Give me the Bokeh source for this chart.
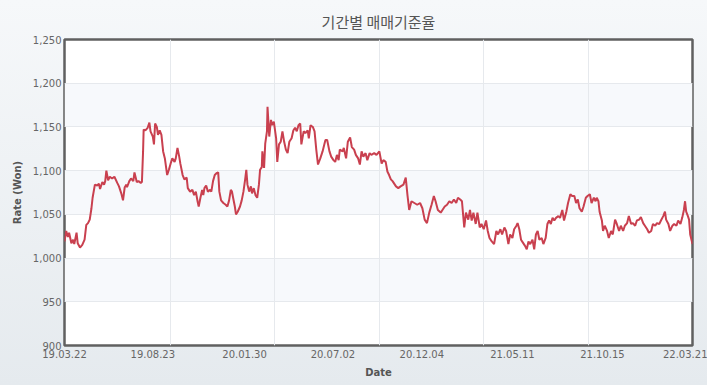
import pandas as pd
from bokeh.plotting import figure
from bokeh.models import Range1d, FixedTicker, DatetimeTickFormatter, NumeralTickFormatter, BoxAnnotation
from bokeh.embed import file_html
from bokeh.resources import INLINE

# ---------------- data ----------------
dates = [
    "2019-03-22", "2019-03-25", "2019-03-28", "2019-03-30", "2019-04-03", "2019-04-06", "2019-04-08", "2019-04-12", "2019-04-14", "2019-04-18",
    "2019-04-22", "2019-04-26", "2019-04-29", "2019-05-02", "2019-05-05", "2019-05-08", "2019-05-10", "2019-05-14", "2019-05-18", "2019-05-21",
    "2019-05-23", "2019-05-27", "2019-05-30", "2019-06-01", "2019-06-03", "2019-06-06", "2019-06-09", "2019-06-13", "2019-06-17", "2019-06-22",
    "2019-06-25", "2019-06-29", "2019-07-02", "2019-07-05", "2019-07-08", "2019-07-09", "2019-07-13", "2019-07-16", "2019-07-20", "2019-07-22",
    "2019-07-26", "2019-07-29", "2019-08-02", "2019-08-04", "2019-08-06", "2019-08-07", "2019-08-10", "2019-08-14", "2019-08-17", "2019-08-19",
    "2019-08-23", "2019-08-25", "2019-08-27", "2019-08-30", "2019-09-01", "2019-09-04", "2019-09-07", "2019-09-10", "2019-09-13", "2019-09-17",
    "2019-09-20", "2019-09-23", "2019-09-26", "2019-09-30", "2019-10-02", "2019-10-05", "2019-10-08", "2019-10-10", "2019-10-14", "2019-10-17",
    "2019-10-21", "2019-10-23", "2019-10-27", "2019-10-31", "2019-11-03", "2019-11-06", "2019-11-09", "2019-11-11", "2019-11-14", "2019-11-17",
    "2019-11-19", "2019-11-21", "2019-11-24", "2019-11-27", "2019-12-01", "2019-12-03", "2019-12-06", "2019-12-09", "2019-12-12", "2019-12-15",
    "2019-12-17", "2019-12-20", "2019-12-24", "2019-12-28", "2019-12-31", "2020-01-03", "2020-01-06", "2020-01-08", "2020-01-10", "2020-01-13",
    "2020-01-15", "2020-01-18", "2020-01-22", "2020-01-25", "2020-01-28", "2020-01-31", "2020-02-02", "2020-02-04", "2020-02-07", "2020-02-10",
    "2020-02-12", "2020-02-15", "2020-02-18", "2020-02-21", "2020-02-24", "2020-02-26", "2020-02-29", "2020-03-01", "2020-03-04", "2020-03-06",
    "2020-03-09", "2020-03-10", "2020-03-13", "2020-03-16", "2020-03-18", "2020-03-21", "2020-03-25", "2020-03-27", "2020-03-30", "2020-04-02",
    "2020-04-05", "2020-04-08", "2020-04-11", "2020-04-14", "2020-04-17", "2020-04-21", "2020-04-24", "2020-04-27", "2020-04-30", "2020-05-03",
    "2020-05-06", "2020-05-08", "2020-05-12", "2020-05-15", "2020-05-19", "2020-05-21", "2020-05-24", "2020-05-28", "2020-05-31", "2020-06-03",
    "2020-06-06", "2020-06-10", "2020-06-14", "2020-06-17", "2020-06-19", "2020-06-22", "2020-06-26", "2020-06-29", "2020-07-03", "2020-07-06",
    "2020-07-09", "2020-07-12", "2020-07-14", "2020-07-19", "2020-07-21", "2020-07-25", "2020-07-28", "2020-08-01", "2020-08-04", "2020-08-08",
    "2020-08-11", "2020-08-15", "2020-08-18", "2020-08-21", "2020-08-24", "2020-08-28", "2020-08-31", "2020-09-04", "2020-09-07", "2020-09-12",
    "2020-09-16", "2020-09-21", "2020-09-25", "2020-09-28", "2020-10-02", "2020-10-05", "2020-10-08", "2020-10-11", "2020-10-14", "2020-10-20",
    "2020-10-24", "2020-10-28", "2020-11-02", "2020-11-06", "2020-11-09", "2020-11-12", "2020-11-16", "2020-11-21", "2020-11-26", "2020-12-01",
    "2020-12-05", "2020-12-09", "2020-12-13", "2020-12-17", "2020-12-21", "2020-12-25", "2020-12-28", "2021-01-01", "2021-01-06", "2021-01-09",
    "2021-01-13", "2021-01-17", "2021-01-21", "2021-01-25", "2021-01-29", "2021-02-02", "2021-02-05", "2021-02-09", "2021-02-12", "2021-02-16",
    "2021-02-19", "2021-02-23", "2021-02-26", "2021-03-01", "2021-03-04", "2021-03-08", "2021-03-11", "2021-03-15", "2021-03-18", "2021-03-22",
    "2021-03-26", "2021-03-29", "2021-04-01", "2021-04-05", "2021-04-09", "2021-04-13", "2021-04-16", "2021-04-20", "2021-04-23", "2021-04-27",
    "2021-04-30", "2021-05-04", "2021-05-07", "2021-05-11", "2021-05-14", "2021-05-18", "2021-05-20", "2021-05-23", "2021-05-26", "2021-05-29",
    "2021-06-02", "2021-06-05", "2021-06-08", "2021-06-11", "2021-06-15", "2021-06-18", "2021-06-21", "2021-06-24", "2021-06-27", "2021-07-01",
    "2021-07-04", "2021-07-08", "2021-07-11", "2021-07-14", "2021-07-17", "2021-07-20", "2021-07-23", "2021-07-26", "2021-07-30", "2021-08-02",
    "2021-08-06", "2021-08-09", "2021-08-13", "2021-08-16", "2021-08-20", "2021-08-23", "2021-08-27", "2021-08-30", "2021-09-02", "2021-09-05",
    "2021-09-09", "2021-09-12", "2021-09-16", "2021-09-19", "2021-09-23", "2021-09-26", "2021-09-30", "2021-10-03", "2021-10-05", "2021-10-08",
    "2021-10-10", "2021-10-14", "2021-10-16", "2021-10-19", "2021-10-23", "2021-10-26", "2021-10-30", "2021-11-02", "2021-11-06", "2021-11-09",
    "2021-11-13", "2021-11-16", "2021-11-20", "2021-11-23", "2021-11-27", "2021-11-30", "2021-12-04", "2021-12-07", "2021-12-11", "2021-12-14",
    "2021-12-18", "2021-12-21", "2021-12-25", "2021-12-28", "2022-01-01", "2022-01-04", "2022-01-08", "2022-01-11", "2022-01-15", "2022-01-18",
    "2022-01-22", "2022-01-25", "2022-01-29", "2022-02-01", "2022-02-03", "2022-02-07", "2022-02-10", "2022-02-14", "2022-02-17", "2022-02-21",
    "2022-02-24", "2022-02-28", "2022-03-03", "2022-03-06", "2022-03-08", "2022-03-10", "2022-03-13", "2022-03-15", "2022-03-17", "2022-03-21",
]
rates = [
    1019, 1031, 1024, 1029, 1017, 1021, 1016, 1029, 1017, 1012,
    1015, 1021, 1038, 1040, 1044, 1057, 1069, 1084, 1083, 1085,
    1079, 1087, 1084, 1088, 1100, 1089, 1093, 1091, 1093, 1086,
    1082, 1074, 1066, 1081, 1084, 1081, 1088, 1091, 1088, 1098,
    1087, 1088, 1086, 1087, 1122, 1147, 1146, 1149, 1155, 1145,
    1139, 1130, 1154, 1150, 1141, 1146, 1141, 1122, 1114, 1095,
    1101, 1108, 1114, 1110, 1114, 1126, 1116, 1108, 1095, 1090,
    1092, 1080, 1076, 1078, 1072, 1076, 1065, 1059, 1069, 1078,
    1072, 1080, 1083, 1076, 1078, 1076, 1088, 1095, 1097, 1098,
    1076, 1066, 1063, 1061, 1059, 1066, 1078, 1076, 1069, 1059,
    1050, 1053, 1059, 1066, 1076, 1090, 1101, 1084, 1076, 1082,
    1074, 1080, 1072, 1069, 1084, 1101, 1104, 1122, 1103, 1131,
    1145, 1173, 1139, 1158, 1152, 1156, 1137, 1110, 1130, 1133,
    1145, 1133, 1124, 1120, 1133, 1137, 1146, 1149, 1145, 1152,
    1154, 1130, 1145, 1143, 1146, 1137, 1152, 1150, 1145, 1124,
    1107, 1114, 1122, 1130, 1135, 1135, 1122, 1116, 1112, 1110,
    1118, 1112, 1124, 1122, 1126, 1114, 1133, 1138, 1127, 1124,
    1118, 1114, 1107, 1122, 1116, 1120, 1112, 1120, 1118, 1120,
    1118, 1122, 1108, 1112, 1110, 1099, 1095, 1090, 1088, 1082,
    1080, 1082, 1084, 1092, 1072, 1055, 1065, 1063, 1061, 1063,
    1057, 1044, 1040, 1052, 1061, 1071, 1065, 1055, 1052, 1055,
    1059, 1061, 1065, 1063, 1067, 1063, 1069, 1067, 1065, 1035,
    1052, 1044, 1055, 1043, 1052, 1039, 1052, 1035, 1039, 1033,
    1043, 1031, 1023, 1019, 1016, 1031, 1027, 1033, 1027, 1035,
    1031, 1016, 1027, 1023, 1033, 1037, 1040, 1033, 1021, 1018,
    1014, 1010, 1019, 1016, 1021, 1010, 1027, 1031, 1021, 1023,
    1016, 1023, 1039, 1043, 1039, 1046, 1043, 1046, 1048, 1046,
    1055, 1043, 1053, 1063, 1073, 1071, 1071, 1063, 1067, 1057,
    1053, 1059, 1069, 1071, 1073, 1063, 1069, 1065, 1069, 1065,
    1053, 1043, 1031, 1037, 1031, 1023, 1031, 1027, 1044, 1039,
    1031, 1037, 1031, 1037, 1040, 1048, 1039, 1040, 1037, 1043,
    1044, 1047, 1040, 1037, 1033, 1029, 1031, 1039, 1037, 1040,
    1039, 1043, 1048, 1053, 1044, 1039, 1031, 1037, 1039, 1037,
    1043, 1039, 1046, 1055, 1065, 1053, 1048, 1044, 1027, 1016,
]
x_start = "2019-03-22"
x_end = "2022-03-21"
x_tick_dates = ["2019-03-22", "2019-08-23", "2020-01-30", "2020-07-02",
                "2020-12-04", "2021-05-11", "2021-10-15", "2022-03-21"]
x_grid_dates = ["2019-09-22", "2020-03-23", "2020-09-21", "2021-03-21", "2021-09-21"]
y_ticks = [900, 950, 1000, 1050, 1100, 1150, 1200, 1250]

title_text = "기간별 매매기준율"
x_label = "Date"
y_label = "Rate (Won)"


def ms(s):
    return pd.Timestamp(s).value // 10**6


xs = [ms(d) for d in dates]

p = figure(
    width=707, height=385,
    x_axis_type="datetime",
    x_range=Range1d(ms(x_start), ms(x_end)),
    y_range=Range1d(y_ticks[0], y_ticks[-1]),
    output_backend="svg", toolbar_location=None,
    min_border_left=64, min_border_right=15, min_border_top=37, min_border_bottom=40,
)

p.border_fill_alpha = 0
p.background_fill_color = "white"
p.outline_line_color = "#606060"
p.outline_line_width = 2.5

# alternating bands
for lo, hi in zip(y_ticks[1::2], y_ticks[2::2]):
    p.add_layout(BoxAnnotation(bottom=lo, top=hi, fill_color="#f7f9fc", fill_alpha=1,
                               line_alpha=0, level="image"))

p.line(xs, rates, line_color="#c9404f", line_width=2)

# title
p.title.text = title_text
p.title.align = "center"
p.title.text_font = "Noto Sans CJK KR"
p.title.text_font_size = "15px"
p.title.text_font_style = "normal"
p.title.text_color = "#555555"
p.title.standoff = 16

# grids
p.ygrid.ticker = FixedTicker(ticks=y_ticks)
p.ygrid.grid_line_color = "#e6e9ed"
p.xgrid.ticker = FixedTicker(ticks=[ms(d) for d in x_grid_dates])
p.xgrid.grid_line_color = "#e6e9ed"

# axes
fmt = "%y.%m.%d"
p.xaxis.ticker = FixedTicker(ticks=[ms(d) for d in x_tick_dates])
p.xaxis.formatter = DatetimeTickFormatter(
    milliseconds=fmt, seconds=fmt, minsec=fmt, minutes=fmt, hourmin=fmt,
    hours=fmt, days=fmt, months=fmt, years=fmt)
p.yaxis.ticker = FixedTicker(ticks=y_ticks)
p.yaxis.formatter = NumeralTickFormatter(format="0,0")

for ax in (p.xaxis[0], p.yaxis[0]):
    ax.axis_line_color = None
    ax.major_tick_line_color = None
    ax.minor_tick_line_color = None
    ax.major_tick_out = 0
    ax.major_tick_in = 0
    ax.minor_tick_out = 0
    ax.major_label_text_font = "DejaVu Sans"
    ax.major_label_text_font_size = "10px"
    ax.major_label_text_color = "#666666"
    ax.axis_label_text_font = "DejaVu Sans"
    ax.axis_label_text_font_size = "10px"
    ax.axis_label_text_font_style = "bold"
    ax.axis_label_text_color = "#555555"

p.xaxis.axis_label = x_label
p.yaxis.axis_label = y_label
p.xaxis.major_label_standoff = 4
p.yaxis.major_label_standoff = 3
p.xaxis.axis_label_standoff = 6
p.yaxis.axis_label_standoff = 7

html = file_html(p, INLINE, title=title_text)
html = html.replace(
    "</head>",
    "<style>html,body{margin:0;padding:0;overflow:hidden;}"
    "html{min-height:100%;background:linear-gradient(#f6f8fa,#e5eaee);}</style></head>",
    1)
open("out.html", "w").write(html)
